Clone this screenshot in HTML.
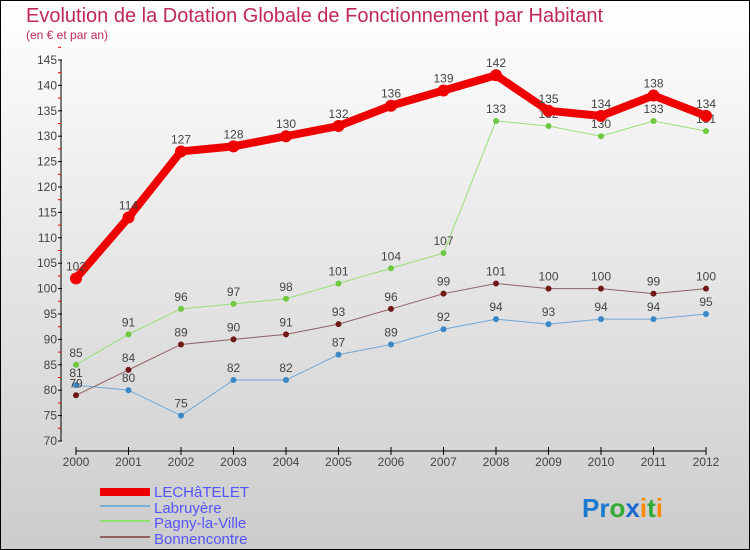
<!DOCTYPE html>
<html><head><meta charset="utf-8"><style>
body{margin:0}
#c{width:750px;height:550px;position:relative;box-sizing:border-box;border:1px solid #000;background:linear-gradient(#fff,#ccc);font-family:"Liberation Sans",sans-serif;overflow:hidden}
</style></head><body>
<div id="c">
<svg width="750" height="550" style="position:absolute;left:-1px;top:-1px" id="s">
<text x="26" y="22" font-size="20" fill="#c0285a">Evolution de la Dotation Globale de Fonctionnement par Habitant</text>
<text x="26" y="39" font-size="12" fill="#c0285a">(en € et par an)</text>
<g id="axes"></g><g id="series"></g>
<g>
<rect x="100" y="488" width="50" height="8" fill="#e00"/>
<text x="154" y="497" font-size="15" fill="#55f">LECHâTELET</text>
<rect x="100" y="505" width="50" height="2" fill="#7ab0d8"/>
<text x="154" y="513" font-size="15" fill="#55f">Labruyère</text>
<rect x="100" y="520" width="50" height="2" fill="#90e070"/>
<text x="154" y="528" font-size="15" fill="#55f">Pagny-la-Ville</text>
<rect x="100" y="536" width="50" height="2" fill="#906060"/>
<text x="154" y="544" font-size="15" fill="#55f">Bonnencontre</text>
</g>
<text x="582" y="517" font-size="26" font-weight="bold"><tspan fill="#1a7ad0">Pr</tspan><tspan fill="#3a3">o</tspan><tspan fill="#1a6ad0">x</tspan><tspan fill="#f80">i</tspan><tspan fill="#3a3">t</tspan><tspan fill="#f80">i</tspan></text>
</svg>
</div>
<script>
const years=[2000,2001,2002,2003,2004,2005,2006,2007,2008,2009,2010,2011,2012];
const lechatelet=[102,114,127,128,130,132,136,139,142,135,134,138,134];
const labruyere=[81,80,75,82,82,87,89,92,94,93,94,94,95];
const pagny=[85,91,96,97,98,101,104,107,133,132,130,133,131];
const bonnencontre=[79,84,89,90,91,93,96,99,101,100,100,99,100];
const yTicks=[70,75,80,85,90,95,100,105,110,115,120,125,130,135,140,145];
const NS="http://www.w3.org/2000/svg";
const x=i=>76+i*(706-76)/(years.length-1);
const y=v=>441-(v-70)*(441-60)/75;
function mk(t,a,p){const e=document.createElementNS(NS,t);for(const k in a)e.setAttribute(k,a[k]);p.appendChild(e);return e;}
const ax=document.getElementById('axes');
const yl=mk('line',{x1:61,y1:y(145),x2:61,y2:y(70),stroke:'#000'},ax);


yTicks.forEach(v=>{
 mk('line',{x1:58,x2:62,y1:y(v),y2:y(v),stroke:'#000'},ax);
 mk('line',{x1:58,x2:61,y1:y(v+2.5),y2:y(v+2.5),stroke:'#e00'},ax);
 const t=mk('text',{x:57,y:y(v)+4,'font-size':12,'text-anchor':'end',fill:'#444'},ax);t.textContent=v;
 
 
});
const xl=mk('line',{x1:x(0),y1:451,x2:x(12),y2:451,stroke:'#000'},ax);


years.forEach((yr,i)=>{
 mk('line',{x1:x(i),x2:x(i),y1:447,y2:455,stroke:'#000'},ax);
 const t=mk('text',{x:x(i),y:466,'font-size':12,'text-anchor':'middle',fill:'#444'},ax);t.textContent=yr;
 
 
});
const sg=document.getElementById('series');
function draw(data,col,dot,w,r,name){
 const g=mk('g',{},sg);
 
 
 const p=mk('polyline',{points:data.map((v,i)=>x(i)+','+y(v)).join(' '),fill:'none',stroke:col,'stroke-width':w},g);
 
 
 data.forEach((v,i)=>{
  const c=mk('circle',{cx:x(i),cy:y(v),r:r,fill:dot},g);
  
  
  const t=mk('text',{x:x(i),y:y(v)-8,'font-size':12,'text-anchor':'middle',fill:'#444'},g);t.textContent=v;
  
  
 });
}
draw(labruyere,'#70a8d8','#3a88c8',1,3,'labruyere');
draw(pagny,'#98e078','#70c840',1,3,'pagny');
draw(bonnencontre,'#906060','#701818',1,3,'bonnencontre');
draw(lechatelet,'#e00','#e00',8,6,'lechatelet');
</script>
</body></html>
